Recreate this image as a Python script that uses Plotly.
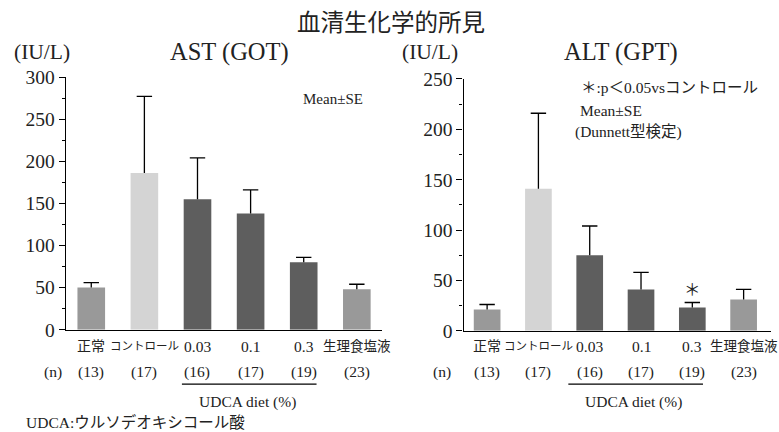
import plotly.graph_objects as go

categories = ["正常", "コントロール", "0.03", "0.1", "0.3", "生理食塩液"]
n_labels = ["(13)", "(17)", "(16)", "(17)", "(19)", "(23)"]
ast_mean = [50, 186, 155, 138, 80, 48]
ast_se = [6, 91, 49, 28, 6, 6]
alt_mean = [21, 141, 75, 41, 23, 31]
alt_se = [5, 75, 29, 17, 5, 10]
bar_colors = ["#999999", "#d4d4d4", "#5e5e5e", "#5e5e5e", "#5e5e5e", "#999999"]
ast_ticks = [0, 50, 100, 150, 200, 250, 300]
alt_ticks = [0, 50, 100, 150, 200, 250]

FW, FH = 789, 441
FONT = "Liberation Serif, DejaVu Serif, Noto Sans CJK JP"
xpos = list(range(len(categories)))
cat_size = {"正常": 14, "コントロール": 11.5, "生理食塩液": 13.5}

def px(x):
    return ((x - 12) / 0.973) / FW

def py(y):
    return 1 - (y / 0.98) / FH

fig = go.Figure()

for means, ses, xa, ya in [(ast_mean, ast_se, "x", "y"), (alt_mean, alt_se, "x2", "y2")]:
    fig.add_trace(go.Bar(
        x=xpos, y=means, xaxis=xa, yaxis=ya, width=0.52,
        marker=dict(color=bar_colors, line=dict(width=0)),
        showlegend=False, hoverinfo="skip"))
    sx, sy = [], []
    for i, (m, s) in enumerate(zip(means, ses)):
        sx += [i, i, None]
        sy += [m, m + s, None]
    fig.add_trace(go.Scatter(x=sx, y=sy, xaxis=xa, yaxis=ya, mode="lines",
                             line=dict(color="black", width=1.3),
                             showlegend=False, hoverinfo="skip"))
    fig.add_trace(go.Scatter(x=xpos, y=[m + s for m, s in zip(means, ses)], xaxis=xa, yaxis=ya,
                             mode="markers",
                             marker=dict(symbol="line-ew-open", size=11, color="black",
                                         line=dict(color="black", width=1.3)),
                             showlegend=False, hoverinfo="skip"))

axis_common = dict(showline=True, linecolor="black", linewidth=1.3, showgrid=False,
                   zeroline=False, fixedrange=True)

fig.update_layout(
    width=FW, height=FH, margin=dict(l=0, r=0, t=0, b=0),
    paper_bgcolor="white", plot_bgcolor="white", barmode="overlay",
    font=dict(family=FONT, color="#222", size=15),
    xaxis=dict(domain=[px(76), px(384)], range=[-0.48, 5.48], showticklabels=False,
               ticks="", anchor="y", **axis_common),
    yaxis=dict(domain=[py(329), py(69)], range=[0, 300], tickvals=ast_ticks,
               ticks="outside", ticklen=6, tickwidth=1.2, tickcolor="black",
               minor=dict(dtick=25, ticks="outside", ticklen=3, tickcolor="black", tickwidth=1),
               tickfont=dict(size=19.5, family=FONT, color="#222"), anchor="x", **axis_common),
    xaxis2=dict(domain=[px(463), px(762)], range=[-0.46, 5.53], showticklabels=False,
                ticks="", anchor="y2", **axis_common),
    yaxis2=dict(domain=[py(330), py(71)], range=[0, 250], tickvals=alt_ticks,
                ticks="outside", ticklen=6, tickwidth=1.2, tickcolor="black",
                minor=dict(dtick=25, ticks="outside", ticklen=3, tickcolor="black", tickwidth=1),
                tickfont=dict(size=19.5, family=FONT, color="#222"), anchor="x2", **axis_common),
)

ann = []

def text(x, y, s, size=15, xanchor="center", xref="paper", yref="paper"):
    ann.append(dict(x=x, y=y, text=s, showarrow=False, xref=xref, yref=yref,
                    xanchor=xanchor, yanchor="middle", font=dict(size=size, family=FONT, color="#222")))

text(px(392), py(13), "血清生化学的所見", size=23.5)
text(px(235), py(43), "AST (GOT)", size=24.5)
text(px(616), py(43), "ALT (GPT)", size=24.5)
text(px(53), py(43), "(IU/L)", size=21.5)
text(px(430), py(43), "(IU/L)", size=21.5)
text(px(367), py(92), "Mean±SE", size=15, xanchor="right")
text(px(575), py(80), "＊:p＜0.05vsコントロール", size=15.5, xanchor="left")
text(px(574), py(103), "Mean±SE", size=15.5, xanchor="left")
text(px(570), py(126), "(Dunnett型検定)", size=15.5, xanchor="left")

for xa, nx in [("x", 64), ("x2", 442)]:
    for i, (c, n) in enumerate(zip(categories, n_labels)):
        text(i, py(346), c, size=cat_size.get(c, 15.5), xref=xa)
        text(i, py(372), n, size=15.5, xref=xa)
    text(px(nx), py(372), "(n)", size=15.5)

text(px(253), py(403), "UDCA diet (%)", size=15.5)
text(px(628), py(403), "UDCA diet (%)", size=15.5)
text(px(35), py(424), "UDCA:ウルソデオキシコール酸", size=15.5, xanchor="left")

ann.append(dict(x=4, y=alt_mean[4] + alt_se[4], xref="x2", yref="y2", text="＊", showarrow=False,
                yanchor="bottom", yshift=1, font=dict(size=16.5, family=FONT, color="#222")))

fig.update_layout(annotations=ann)

fig.update_layout(shapes=[
    dict(type="line", xref="paper", yref="paper", x0=px(189), x1=px(320), y0=py(385), y1=py(385),
         line=dict(color="black", width=1.2)),
    dict(type="line", xref="paper", yref="paper", x0=px(565), x1=px(696), y0=py(385), y1=py(385),
         line=dict(color="black", width=1.2)),
])

fig.write_html("out.html", config=dict(displayModeBar=False),
               post_script="document.body.style.margin='0';"
                           "document.documentElement.style.overflow='hidden';"
                           "document.body.style.overflow='hidden';")
